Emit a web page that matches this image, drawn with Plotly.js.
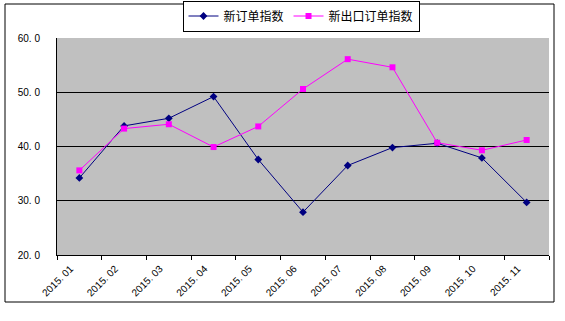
<!DOCTYPE html>
<html>
<head>
<meta charset="utf-8">
<script src="https://cdn.plot.ly/plotly-3.0.1.min.js"></script>
<style>html,body{margin:0;padding:0;background:#fff;}#chart{width:565px;height:321px;}</style>
</head>
<body>
<div id="chart"></div>
<script>
var categories = ["2015. 01","2015. 02","2015. 03","2015. 04","2015. 05","2015. 06","2015. 07","2015. 08","2015. 09","2015. 10","2015. 11"];
var newOrders = [34.2, 43.8, 45.2, 49.2, 37.6, 27.9, 36.5, 39.8, 40.6, 37.9, 29.7];
var newExportOrders = [35.6, 43.3, 44.1, 39.9, 43.7, 50.6, 56.1, 54.6, 40.7, 39.3, 41.2];
var seriesNames = ["新订单指数", "新出口订单指数"];
var yTickVals = [20, 30, 40, 50, 60];
var yTickText = ["20. 0", "30. 0", "40. 0", "50. 0", "60. 0"];

var W = 565, H = 321, L = 57, R = 16, T = 38, B = 66;
var pw = W - L - R, ph = H - T - B;
function px(x){ return (x - L) / pw; }
function py(y){ return (H - B - y) / ph; }

var traces = [
  {x: categories, y: newOrders, name: seriesNames[0], type: "scatter", mode: "lines+markers",
   line: {color: "#000080", width: 1}, marker: {symbol: "diamond", size: 6, color: "#000080"}},
  {x: categories, y: newExportOrders, name: seriesNames[1], type: "scatter", mode: "lines+markers",
   line: {color: "#FF00FF", width: 1}, marker: {symbol: "square", size: 6, color: "#FF00FF"}}
];

var layout = {
  width: W, height: H,
  margin: {l: L, r: R, t: T, b: B, autoexpand: false},
  paper_bgcolor: "#ffffff",
  plot_bgcolor: "#C0C0C0",
  font: {family: "Liberation Sans, Arial, sans-serif", size: 10, color: "#000000"},
  showlegend: true,
  legend: {
    orientation: "h", x: px(301), xanchor: "center", y: py(16), yanchor: "middle",
    bordercolor: "#000000", borderwidth: 1, bgcolor: "#ffffff",
    font: {family: "Noto Sans CJK SC, sans-serif", size: 12, color: "#000000"},
    tracegroupgap: 0
  },
  xaxis: {
    type: "category", tickangle: -45, tickson: "boundaries",
    ticks: "outside", ticklen: 4, tickcolor: "#000000",
    showline: true, linecolor: "#000000", linewidth: 1,
    showgrid: false, zeroline: false, ticklabelshift: -9, ticklabelstandoff: 3,
    tickfont: {family: "Liberation Sans, Arial, sans-serif", size: 10, color: "#000000"},
    range: [-0.5, categories.length - 0.5]
  },
  yaxis: {
    range: [20, 60], tickvals: yTickVals, ticktext: yTickText,
    ticks: "outside", ticklen: 14, tickcolor: "rgba(0,0,0,0)",
    showline: true, linecolor: "#000000", linewidth: 1,
    showgrid: true, gridcolor: "#000000", gridwidth: 1, zeroline: false,
    tickfont: {family: "Liberation Sans, Arial, sans-serif", size: 10, color: "#000000"}
  },
  shapes: [
    {type: "rect", xref: "paper", yref: "paper", x0: px(5), x1: px(554), y0: py(302), y1: py(4),
     line: {color: "#000000", width: 1}, fillcolor: "rgba(0,0,0,0)", layer: "below"}
  ]
};

Plotly.newPlot("chart", traces, layout, {displayModeBar: false, staticPlot: true});
</script>
</body>
</html>
